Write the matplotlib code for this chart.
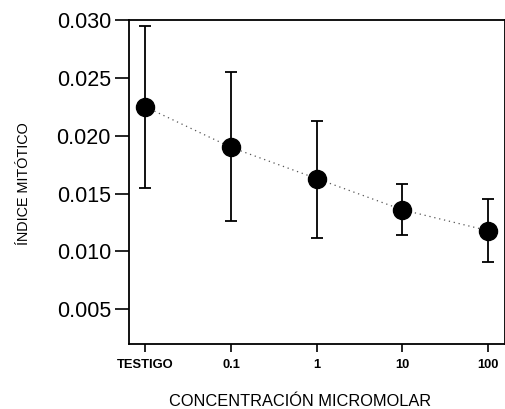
import matplotlib
matplotlib.use("Agg")
import matplotlib.pyplot as plt
from matplotlib import font_manager

categories = ["TESTIGO", "0.1", "1", "10", "100"]
means = [0.0225, 0.0190, 0.0163, 0.0136, 0.0118]
upper = [0.0295, 0.0255, 0.0213, 0.0158, 0.0145]
lower = [0.0155, 0.0126, 0.0112, 0.0114, 0.0091]
yticks = [0.005, 0.010, 0.015, 0.020, 0.025, 0.030]

names = {f.name for f in font_manager.fontManager.ttflist}
narrow = "Liberation Sans Narrow" if "Liberation Sans Narrow" in names else "Liberation Sans"
plt.rcParams['font.family'] = ['Liberation Sans', 'DejaVu Sans']

fig = plt.figure(figsize=(5.06, 4.09), dpi=100)
ax = fig.add_axes([0.255, 0.159, 0.743, 0.792])

x = list(range(len(categories)))
yerr = [[m - l for m, l in zip(means, lower)], [u - m for m, u in zip(means, upper)]]
ax.plot(x, means, linestyle=(0, (1, 3)), color='#555555', linewidth=0.9, zorder=2)
ax.errorbar(x, means, yerr=yerr, fmt='none', ecolor='black', elinewidth=1.3,
            capsize=4.3, capthick=1.3, zorder=3)
ax.plot(x, means, 'o', color='black', markersize=13, zorder=4)

ax.set_xlim(-0.19, 4.2)
ax.set_ylim(0.002, 0.030)
ax.set_yticks(yticks)
ax.set_yticklabels([f"{v:.3f}" for v in yticks], fontsize=15.5)
ax.set_xticks(x)
ax.set_xticklabels(categories, fontsize=9.3, fontweight='bold')
ax.tick_params(axis='y', direction='out', length=10, width=1.2, pad=3)
ax.tick_params(axis='x', direction='out', length=6, width=1.2, pad=5)
for s in ax.spines.values():
    s.set_linewidth(1.3)

ax.set_ylabel("ÍNDICE MITÓTICO", fontsize=10.4, family=[narrow, 'DejaVu Sans'])
ax.yaxis.set_label_coords(-(129 - 31) / 376, 0.495)
fig.text(300 / 506, 1 - 402 / 409, "CONCENTRACIÓN MICROMOLAR", fontsize=11.8,
         ha='center', va='center')

fig.savefig("out.png", dpi=100)
